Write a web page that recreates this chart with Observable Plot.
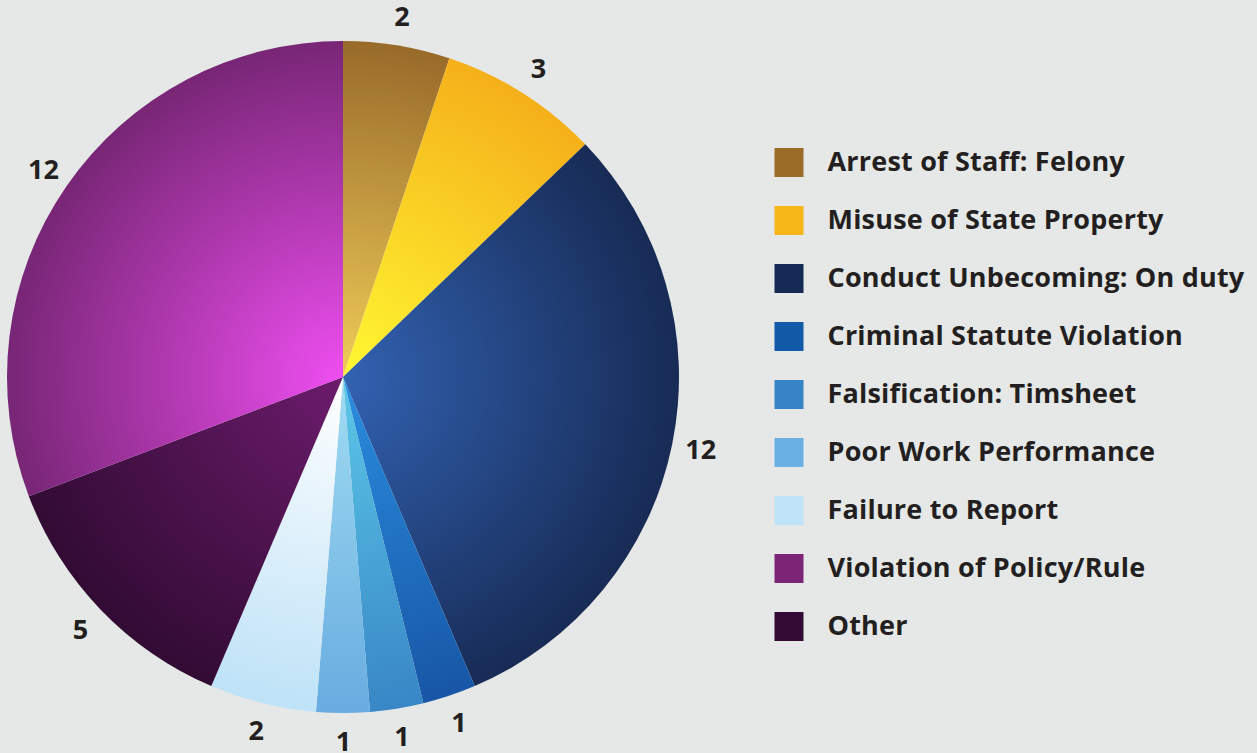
<!DOCTYPE html>
<html><head><meta charset="utf-8">
<script src="https://cdn.jsdelivr.net/npm/d3@7"></script>
<script src="https://cdn.jsdelivr.net/npm/@observablehq/plot@0.6"></script>
<style>
html,body{margin:0;padding:0;background:#e6e8e7;}
#wrap{position:relative;width:1257px;height:753px;overflow:hidden;background:#e6e8e7;}
#pie{position:absolute;left:0;top:0;}
#legend{position:absolute;left:760px;top:0;}
svg{overflow:visible;}
</style></head><body><div id="wrap"><div id="pie"></div><div id="legend"></div></div>
<script>
const categories = ["Arrest of Staff: Felony","Misuse of State Property","Conduct Unbecoming: On duty","Criminal Statute Violation","Falsification: Timsheet","Poor Work Performance","Failure to Report","Violation of Policy/Rule","Other"];
const counts = [2, 3, 12, 1, 1, 1, 2, 12, 5];
const legendColors = ["#9a6c28","#f8b719","#152b55","#1259a8","#3684c6","#6ab0e2","#bfe4f8","#7c2577","#320b34"];
const centerColors = ["#f0cc58","#fff832","#3262b2","#2a8ee0","#5cc8e8","#a0dcf2","#ffffff","#ee4ef0","#6c1c6c"];
const edgeColors   = ["#986b2a","#f5b01a","#172b55","#1856a6","#3886c6","#68ace0","#bee2f7","#782676","#320b34"];
// clockwise order of slices starting at 12 o'clock
const sliceOrder = [0, 1, 2, 3, 4, 5, 6, 8, 7];

const rows = categories.map((name, i) => ({name, count: counts[i], legendColor: legendColors[i], center: centerColors[i], edge: edgeColors[i]}));
const ordered = sliceOrder.map(i => rows[i]);
const arcs = d3.pie().sort(null).value(d => d.count)(ordered);
const mid = a => (a.startAngle + a.endAngle) / 2;
const labelK = 1.085;

const font = "'Open Sans', 'DejaVu Sans', sans-serif";

function pieMark(index, scales, values, dimensions, context) {
  const cx = scales.x(0), cy = scales.y(0), r = scales.x(1) - scales.x(0);
  const g = d3.create("svg:g");
  const defs = g.append("defs");
  arcs.forEach((a, i) => {
    const grad = defs.append("radialGradient").attr("id", "sg" + i)
      .attr("gradientUnits", "userSpaceOnUse").attr("cx", 0).attr("cy", 0).attr("r", r);
    grad.append("stop").attr("offset", "0%").attr("stop-color", a.data.center);
    grad.append("stop").attr("offset", "100%").attr("stop-color", a.data.edge);
  });
  const arc = d3.arc().innerRadius(0).outerRadius(r);
  g.append("g").attr("transform", `translate(${cx},${cy})`)
    .selectAll("path").data(arcs).join("path")
    .attr("d", arc).attr("fill", (d, i) => `url(#sg${i})`);
  return g.node();
}

const pie = Plot.plot({
  width: 760, height: 753,
  marginLeft: 7, marginRight: 81, marginTop: 41, marginBottom: 40,
  x: {domain: [-1, 1], axis: null},
  y: {domain: [-1, 1], axis: null},
  style: {background: "transparent", fontFamily: font, overflow: "visible"},
  marks: [
    pieMark,
    Plot.text(arcs, {
      x: d => Math.sin(mid(d)) * labelK,
      y: d => Math.cos(mid(d)) * labelK,
      text: d => String(d.data.count),
      fontSize: 27, fontWeight: 700, fill: "#231f20"
    })
  ]
});
document.getElementById("pie").appendChild(pie);

const legend = Plot.plot({
  width: 497, height: 753,
  margin: 0,
  x: {domain: [0, 1], range: [28.5, 67], axis: null},
  y: {type: "point", domain: categories, range: [159, 629], padding: 0, axis: null},
  color: {type: "identity"},
  style: {background: "transparent", fontFamily: font, overflow: "visible"},
  marks: [
    Plot.dot(rows, {x: () => 0, y: "name", symbol: "square", r: 16.37, fill: "legendColor"}),
    Plot.text(rows, {x: () => 1, y: "name", text: "name", textAnchor: "start", fontSize: 27, fontWeight: 700, fill: "#231f20"})
  ]
});
legend.querySelectorAll("text").forEach(t => t.style.letterSpacing = "0.2px");
document.getElementById("legend").appendChild(legend);
</script>
</body></html>
